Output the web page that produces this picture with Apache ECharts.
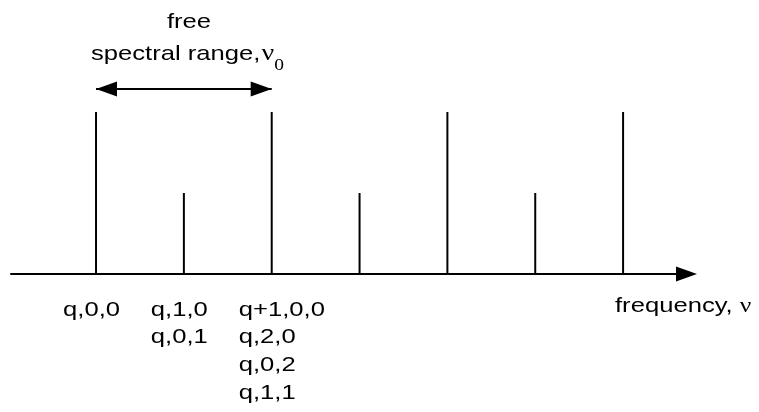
<!DOCTYPE html>
<html><head><meta charset="utf-8">
<script src="https://cdn.jsdelivr.net/npm/echarts@6/dist/echarts.min.js"></script>
<style>html,body{margin:0;padding:0;background:#fff}#c{width:759px;height:412px}</style>
</head><body><div id="c"></div>
<script>
// Mode frequencies in units of the free spectral range (nu0)
const peakPositions = [0, 0.5, 1, 1.5, 2, 2.5, 3];
const peakHeights = [1, 0.5, 1, 0.5, 1, 0.5, 1];
// Mode labels under the first three peaks
const labelPositions = [0, 0.5, 1];
const modeLabels = [
  ['q,0,0'],
  ['q,1,0', 'q,0,1'],
  ['q+1,0,0', 'q,2,0', 'q,0,2', 'q,1,1']
];
// Free spectral range arrow (from, to, level)
const fsrRange = [0, 1];
const fsrLevel = 1.142;
const axisTitleText = 'frequency, ';
const axisTitleSymbol = 'ν';
const annotTop = 'free';
const annotMain = 'spectral range,';
const annotSym = 'ν';
const annotSub = '0';

const SANS = '"Liberation Sans", Arial, sans-serif';
const SERIF = '"Liberation Serif", "Times New Roman", serif';
const SX = 1.22;

const mctx = document.createElement('canvas').getContext('2d');
function tw(text, font) { mctx.font = font; return mctx.measureText(text).width * SX; }

const chart = echarts.init(document.getElementById('c'), null, {renderer: 'canvas'});

const fMain = '21px ' + SANS;
const fSym = '23px ' + SERIF;
const fSub = '16px ' + SERIF;
const specLeft = 91;
const wMain = tw(annotMain, fMain);
const wSym = tw(annotSym, fSym);
const freqLeft = 615;
const wFreq = tw(axisTitleText, fMain);

function txt(x, y, text, font) {
  return {type: 'text', x: x, y: y, scaleX: SX, silent: true,
    style: {text: text, font: font, fill: '#000', align: 'left', verticalAlign: 'middle'}};
}

chart.setOption({
  animation: false,
  backgroundColor: '#fff',
  grid: {left: 11, right: 72.5, top: 71.5, bottom: 138},
  xAxis: {
    type: 'value', min: -0.484, max: 3.361,
    axisLine: {show: true, onZero: true, symbol: ['none', 'triangle'], symbolSize: [15, 21],
      lineStyle: {color: '#000', width: 2}},
    axisTick: {show: false}, axisLabel: {show: false}, splitLine: {show: false}
  },
  yAxis: {type: 'value', min: 0, max: 1.25, show: false},
  graphic: [
    {type: 'text', x: 189, y: 22, scaleX: SX, silent: true,
      style: {text: annotTop, font: fMain, fill: '#000', align: 'center', verticalAlign: 'middle'}},
    txt(specLeft, 54, annotMain, fMain),
    txt(specLeft + wMain + 1, 53.5, annotSym, fSym),
    txt(specLeft + wMain + wSym + 1, 66, annotSub, fSub),
    txt(freqLeft, 306, axisTitleText, fMain),
    txt(freqLeft + wFreq, 306, axisTitleSymbol, '21px ' + SERIF)
  ],
  series: [
    {
      type: 'custom',
      data: peakPositions.map((p, i) => [p, peakHeights[i]]),
      encode: {x: 0, y: 1},
      renderItem: function (params, api) {
        const a = api.coord([api.value(0), 0]);
        const b = api.coord([api.value(0), api.value(1)]);
        return {type: 'line', shape: {x1: a[0], y1: a[1], x2: b[0], y2: b[1]},
          style: {stroke: '#000', lineWidth: 2}};
      },
      markLine: {
        silent: true, animation: false,
        symbol: ['triangle', 'triangle'], symbolSize: [15, 21],
        symbolOffset: [[0, 10.5], [0, 10.5]],
        label: {show: false},
        lineStyle: {color: '#000', width: 2, type: 'solid'},
        data: [[{coord: [fsrRange[0], fsrLevel]}, {coord: [fsrRange[1], fsrLevel]}]]
      }
    },
    {
      type: 'custom',
      data: labelPositions.map(p => [p, 0]),
      encode: {x: 0, y: 1},
      renderItem: function (params, api) {
        const a = api.coord([api.value(0), 0]);
        const lines = modeLabels[params.dataIndex];
        return {type: 'group', children: lines.map((t, j) => ({
          type: 'text', x: a[0] - 33, y: a[1] + 36 + j * 27.7, scaleX: SX,
          style: {text: t, font: fMain, fill: '#000', align: 'left', verticalAlign: 'middle'}
        }))};
      }
    }
  ]
});
</script>
</body></html>
